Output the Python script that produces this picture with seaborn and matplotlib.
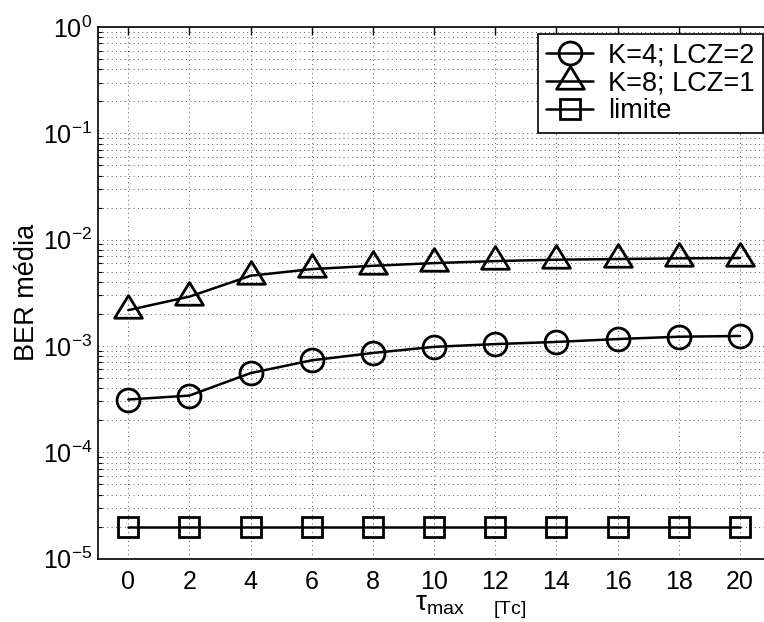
import numpy as np
import pandas as pd
import matplotlib
matplotlib.use("Agg")
import matplotlib.pyplot as plt
import seaborn as sns
from matplotlib.path import Path
from matplotlib.ticker import LogLocator, FixedLocator

# ---- data ----
tau_max = [0, 2, 4, 6, 8, 10, 12, 14, 16, 18, 20]
ber_k4_lcz2 = [3.13e-4, 3.41e-4, 5.55e-4, 7.32e-4, 8.58e-4, 9.8e-4,
               1.04e-3, 1.09e-3, 1.16e-3, 1.22e-3, 1.24e-3]
ber_k8_lcz1 = [2.17e-3, 2.91e-3, 4.57e-3, 5.28e-3, 5.67e-3, 6.01e-3,
               6.28e-3, 6.47e-3, 6.56e-3, 6.66e-3, 6.70e-3]
ber_limite = [2e-5] * 11
labels = ["K=4; LCZ=2", "K=8; LCZ=1", "limite"]
xticks = [0, 2, 4, 6, 8, 10, 12, 14, 16, 18, 20]

sns.set_style("white")
plt.rcParams["font.family"] = ["Liberation Sans", "DejaVu Sans"]
plt.rcParams["mathtext.fontset"] = "custom"
plt.rcParams["mathtext.rm"] = "Liberation Sans"
plt.rcParams["mathtext.it"] = "Liberation Sans:italic"
plt.rcParams["mathtext.default"] = "regular"
plt.rcParams["text.color"] = "black"
plt.rcParams["axes.labelcolor"] = "black"
plt.rcParams["xtick.color"] = "black"
plt.rcParams["ytick.color"] = "black"

W, H = 764, 622
fig = plt.figure(figsize=(W / 100, H / 100), dpi=100)
left, right, top, bottom = 97.7, 770.6, 27.0, 558.5
ax = fig.add_axes([left / W, 1 - bottom / H, (right - left) / W, (bottom - top) / H])

df = pd.DataFrame({"tau": tau_max, "a": ber_k4_lcz2, "b": ber_k8_lcz1, "c": ber_limite})

tri = Path([(0, 14.5), (-13.5, -7.5), (13.5, -7.5), (0, 14.5)],
           [Path.MOVETO, Path.LINETO, Path.LINETO, Path.CLOSEPOLY])
styles = [("a", "o", 16.5), ("b", tri, 21.5), ("c", "s", 14)]
for (col, mk, ms), lab in zip(styles, labels):
    sns.lineplot(data=df, x="tau", y=col, ax=ax, color="black", linewidth=1.8,
                 marker=mk, markersize=ms, markerfacecolor="none",
                 markeredgecolor="black", markeredgewidth=2.0, label=lab,
                 zorder=3)

ax.set_yscale("log")
ax.set_ylim(1e-5, 1e0)
ax.set_xlim(-1, 21)
ax.xaxis.set_major_locator(FixedLocator(xticks))
ax.yaxis.set_major_locator(LogLocator(base=10, numticks=10))
ax.yaxis.set_minor_locator(LogLocator(base=10, subs=np.arange(2, 10), numticks=20))

grid_ls = (0, (1, 3.5))
ax.grid(True, which="major", axis="both", linestyle=grid_ls, color="0.35", linewidth=0.7)
ax.grid(True, which="minor", axis="y", linestyle=grid_ls, color="0.35", linewidth=0.7)
ax.set_axisbelow(True)

ax.tick_params(axis="both", which="major", direction="in", length=6, width=1,
               labelsize=18, top=True, right=True, color="black")
ax.tick_params(axis="y", which="minor", direction="in", length=3, width=0.8,
               left=True, right=True)
ax.tick_params(axis="x", which="major", pad=8)
ax.tick_params(axis="y", which="major", pad=4)
for s in ax.spines.values():
    s.set_color("black")
    s.set_linewidth(1.2)

ax.set_xlabel(r"$\tau_{max}\quad\;{}_{[Tc]}$", fontsize=20)
ax.xaxis.set_label_coords((471 - left) / (right - left), -0.066)
ax.xaxis.label.set_verticalalignment("top")
ax.set_ylabel("BER média", fontsize=19.5, labelpad=2)

leg = ax.legend(loc="upper right", bbox_to_anchor=(763 / W, 1 - 34 / H),
                bbox_transform=fig.transFigure, borderaxespad=0, fontsize=19.5,
                frameon=True, fancybox=False, handlelength=1.75, handletextpad=0.55,
                borderpad=0.3, labelspacing=0.08)
leg.get_frame().set_edgecolor("black")
leg.get_frame().set_linewidth(1.2)
leg.get_frame().set_facecolor("white")
leg.get_frame().set_alpha(1)

fig.savefig("out.png", dpi=100)
